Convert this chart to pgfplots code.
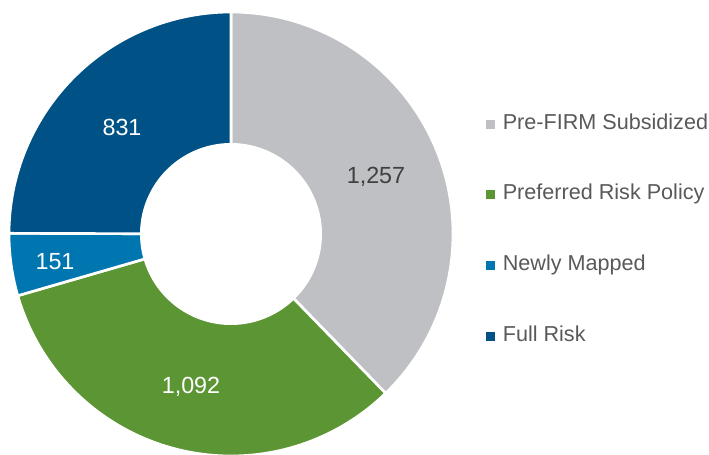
\documentclass[border=0pt]{standalone}
\usepackage{pgfplots}
\pgfplotsset{compat=1.18}
\usepackage{fontspec}
\setmainfont{Liberation Sans}
\definecolor{cPre}{HTML}{BFC0C3}
\definecolor{cPref}{HTML}{5C9634}
\definecolor{cNew}{HTML}{0076B0}
\definecolor{cFull}{HTML}{005286}
\definecolor{txt}{HTML}{595959}
\begin{document}
\begin{tikzpicture}
% values
\pgfmathsetmacro{\vA}{1257}
\pgfmathsetmacro{\vB}{1092}
\pgfmathsetmacro{\vC}{151}
\pgfmathsetmacro{\vD}{831}
\pgfmathsetmacro{\tot}{\vA+\vB+\vC+\vD}
\pgfmathsetmacro{\aA}{90}
\pgfmathsetmacro{\aB}{\aA-\vA/\tot*360}
\pgfmathsetmacro{\aC}{\aB-\vB/\tot*360}
\pgfmathsetmacro{\aD}{\aC-\vC/\tot*360}
\pgfmathsetmacro{\aE}{\aD-\vD/\tot*360}
\def\cx{231}\def\cy{220}\def\R{222}\def\r{91}
\begin{axis}[
  scale only axis, width=531.75pt, height=340.5pt,
  xmin=0, xmax=709, ymin=0, ymax=454,
  hide axis, clip=false,
  legend image code/.code={\fill[#1] (0pt,-3pt) rectangle (6pt,3pt);},
  legend style={draw=none, fill=none, at={(axis cs:486,341)}, anchor=north west,
    inner sep=0pt, row sep=37pt, font=\fontsize{16.2}{18}\selectfont, text=txt,
    cells={anchor=west},
    nodes={inner sep=0pt, text height=12pt, text depth=4pt},
    /tikz/every odd column/.style={column sep=6pt}},
]
\addplot[fill=cPre, draw=white, line width=2pt, domain=\aB:\aA, samples=120, forget plot]
  ({\cx+\R*cos(x)},{\cy+\R*sin(x)}) -- (axis cs:\cx,\cy) -- cycle;
\addplot[fill=cPref, draw=white, line width=2pt, domain=\aC:\aB, samples=120, forget plot]
  ({\cx+\R*cos(x)},{\cy+\R*sin(x)}) -- (axis cs:\cx,\cy) -- cycle;
\addplot[fill=cNew, draw=white, line width=2pt, domain=\aD:\aC, samples=30, forget plot]
  ({\cx+\R*cos(x)},{\cy+\R*sin(x)}) -- (axis cs:\cx,\cy) -- cycle;
\addplot[fill=cFull, draw=white, line width=2pt, domain=\aE:\aD, samples=100, forget plot]
  ({\cx+\R*cos(x)},{\cy+\R*sin(x)}) -- (axis cs:\cx,\cy) -- cycle;
\addplot[fill=white, draw=none, domain=0:360, samples=150, forget plot]
  ({\cx+\r*cos(x)},{\cy+\r*sin(x)}) -- cycle;
\node[text=black!75, font=\fontsize{17.5}{20}\selectfont] at (axis cs:376,277) {1,257};
\node[text=white, font=\fontsize{17.5}{20}\selectfont] at (axis cs:191,67) {1,092};
\node[text=white, font=\fontsize{17.5}{20}\selectfont] at (axis cs:55,192) {151};
\node[text=white, font=\fontsize{17.5}{20}\selectfont] at (axis cs:122,327) {831};
\addlegendimage{cPre}\addlegendentry{Pre-FIRM Subsidized}
\addlegendimage{cPref}\addlegendentry{Preferred Risk Policy}
\addlegendimage{cNew}\addlegendentry{Newly Mapped}
\addlegendimage{cFull}\addlegendentry{Full Risk}
\end{axis}
\pgfresetboundingbox
\path (current axis.south west) rectangle (current axis.north east);
\end{tikzpicture}
\end{document}
